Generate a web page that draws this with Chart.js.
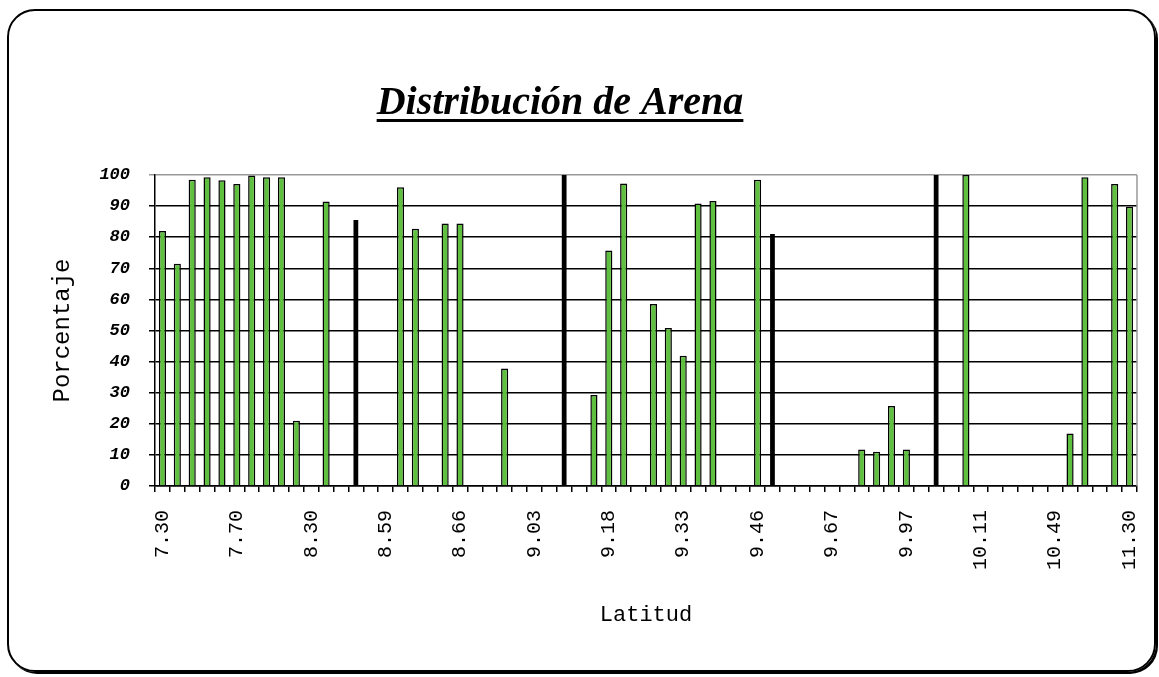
<!DOCTYPE html>
<html>
<head>
<meta charset="utf-8">
<script src="https://cdn.jsdelivr.net/npm/chart.js@4.4.0/dist/chart.umd.min.js"></script>
<style>
  body { margin: 0; background: #fff; }
  #marco { position: relative; width: 1159px; height: 677px; overflow: hidden; }
  #borde { position: absolute; left: 7px; top: 9px; width: 1149px; height: 663px; box-sizing: border-box;
           border: 2px solid #000; border-radius: 28px; box-shadow: 2px 2px 0 #000; pointer-events: none; }
  canvas { position: absolute; left: 0; top: 0; }
</style>
</head>
<body>
<div id="marco">
  <canvas id="grafico" width="1159" height="677"></canvas>
  <div id="borde"></div>
</div>
<script>
// Etiquetas del eje X (una cada 5 muestras)
const etiquetasLatitud = ['7.30', '7.70', '8.30', '8.59', '8.66', '9.03', '9.18',
                          '9.33', '9.46', '9.67', '9.97', '10.11', '10.49', '11.30'];

// Porcentaje de arena por muestra (null = sin dato)
const arena = [
    82, 71.5, 98.5, 99.3, 98.3, 97.1, 99.8, 99.3, 99.3, 21,
    null, 91.5, null, null, null, null, 96.1, 82.7, null, 84.4,
    84.4, null, null, 37.8, null, null, null, null, null, 29.3,
    75.7, 97.3, null, 58.5, 50.8, 41.9, 90.8, 91.6, null, null,
    98.5, null, null, null, null, null, null, 11.7, 11, 25.7,
    11.7, null, null, null, 100, null, null, null, null, null,
    null, 16.9, 99.3, null, 97.1, 89.8
];

// Barras negras
const negras = [
    null, null, null, null, null, null, null, null, null, null,
    null, null, null, 85.5, null, null, null, null, null, null,
    null, null, null, null, null, null, null, 100, null, null,
    null, null, null, null, null, null, null, null, null, null,
    null, 81, null, null, null, null, null, null, null, null,
    null, null, 100, null, null, null, null, null, null, null,
    null, null, null, null, null, null
];

const categorias = arena.map((v, i) => i % 5 === 0 ? etiquetasLatitud[i / 5] : '');

// Titulo subrayado y borde gris del area de trazado
const extras = {
    id: 'extras',
    afterDraw(chart) {
        const ctx = chart.ctx;
        const area = chart.chartArea;
        ctx.save();
        ctx.strokeStyle = '#999';
        ctx.lineWidth = 1.5;
        ctx.beginPath();
        ctx.moveTo(area.right, area.top);
        ctx.lineTo(area.right, area.bottom);
        ctx.stroke();

        ctx.fillStyle = '#000';
        ctx.font = 'italic bold 40px "Liberation Serif"';
        ctx.textAlign = 'center';
        ctx.textBaseline = 'alphabetic';
        ctx.fillText('Distribución de Arena', 560, 114);
        const w = ctx.measureText('Distribución de Arena').width;
        ctx.fillRect(560 - w / 2, 119, w, 3);
        ctx.restore();
    }
};

const ctxGrafico = document.getElementById('grafico').getContext('2d');
new Chart(ctxGrafico, {
    type: 'bar',
    data: {
        labels: categorias,
        datasets: [{
            label: 'Arena',
            data: arena,
            backgroundColor: '#5fbf3f',
            borderColor: '#000',
            borderWidth: 1.5,
            barPercentage: 0.48,
            categoryPercentage: 1,
            grouped: false
        }, {
            label: 'Negras',
            data: negras,
            backgroundColor: '#000',
            borderWidth: 0,
            barPercentage: 0.32,
            categoryPercentage: 1,
            grouped: false
        }]
    },
    options: {
        responsive: false,
        animation: false,
        layout: { padding: { left: 18, right: 22, top: 175, bottom: 20 } },
        plugins: {
            legend: { display: false },
            tooltip: { enabled: false }
        },
        scales: {
            x: {
                offset: true,
                grid: { drawOnChartArea: false, drawTicks: true, tickLength: 6, color: '#000', lineWidth: 1.5, offset: true },
                border: { color: '#000', width: 1.5 },
                ticks: {
                    autoSkip: false, maxRotation: 90, minRotation: 90, padding: 18, color: '#000',
                    font: { family: 'Liberation Mono', size: 20 }
                },
                title: {
                    display: true, text: 'Latitud', color: '#000', padding: 29,
                    font: { family: 'Liberation Mono', size: 22 }
                },
                afterFit: s => { s.height = 171; s.paddingLeft = 0; s.paddingRight = 0; }
            },
            y: {
                min: 0,
                max: 100,
                ticks: {
                    stepSize: 10, padding: 19, color: '#000',
                    font: { family: 'Liberation Mono', size: 17, style: 'italic', weight: 'bold' }
                },
                grid: {
                    color: c => (c.tick && c.tick.value === 100) ? '#999' : '#000',
                    lineWidth: 1.5, tickLength: 6
                },
                border: { color: '#000', width: 1.5 },
                title: {
                    display: true, text: 'Porcentaje', color: '#000', padding: 30,
                    font: { family: 'Liberation Mono', size: 24 }
                },
                afterFit: s => { s.width = 137; }
            }
        }
    },
    plugins: [extras]
});
</script>
</body>
</html>
